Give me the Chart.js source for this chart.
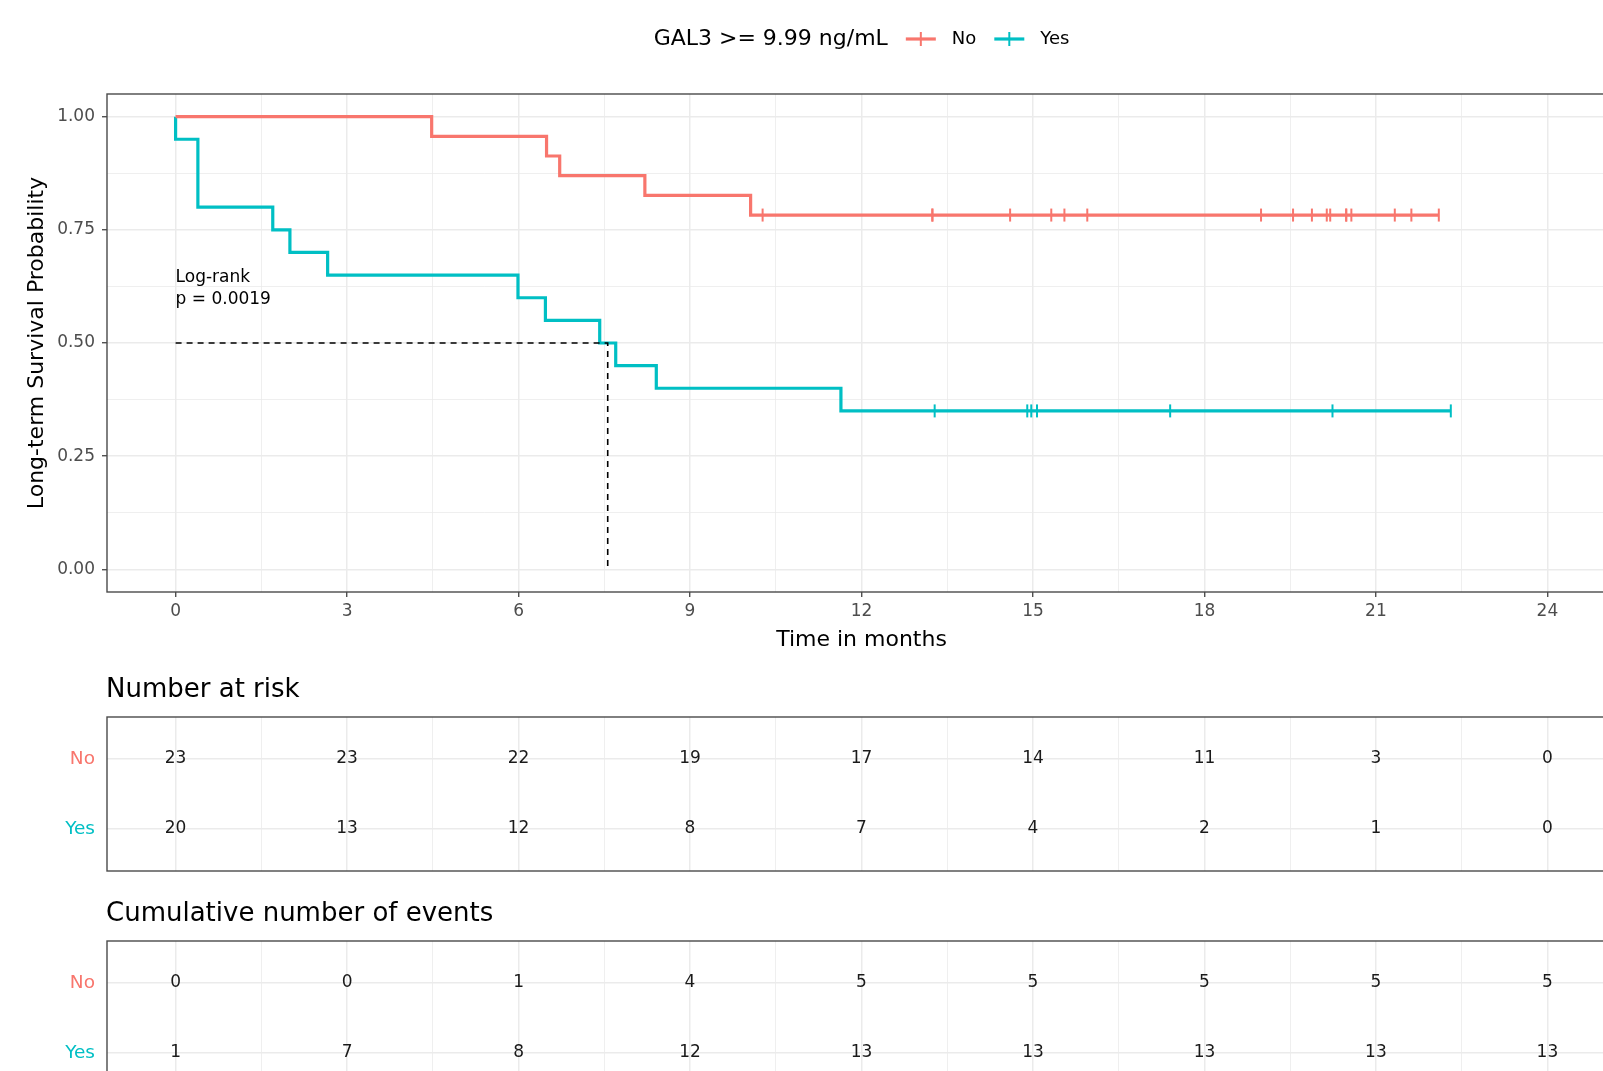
<!DOCTYPE html>
<html><head><meta charset="utf-8">
<script src="https://cdn.jsdelivr.net/npm/chart.js@4.4.1/dist/chart.umd.min.js"></script>
<style>
html,body{margin:0;padding:0;overflow:hidden;background:#fff;width:1603px;height:1071px;}
canvas{position:absolute;left:0;}
#c1{top:0px} #c2{top:660px} #c3{top:880px}
</style></head><body>
<canvas id="c1" width="1630" height="660"></canvas>
<canvas id="c2" width="1630" height="236"></canvas>
<canvas id="c3" width="1630" height="240"></canvas>
<script>
// ---------- DATA ----------
const legendTitle = 'GAL3 >= 9.99 ng/mL';
const groups = ['No', 'Yes'];

// Kaplan-Meier steps (time in months, survival after the step)
const noTimes  = [0, 4.48, 6.49, 6.72, 8.21, 10.06];
const noSurv   = [1.0, 0.9565, 0.9130, 0.8696, 0.8261, 0.7826];
const noCensor = [10.27, 13.24, 13.24, 14.60, 15.32, 15.55, 15.95, 18.99, 19.55, 19.88, 20.14, 20.20, 20.48, 20.48, 20.57, 21.33, 21.62, 22.10];

const yesTimes  = [0, 0, 0.39, 1.70, 2.00, 2.66, 5.99, 6.47, 7.42, 7.70, 8.41, 11.64];
const yesSurv   = [1.0, 0.95, 0.80, 0.75, 0.70, 0.65, 0.60, 0.55, 0.50, 0.45, 0.40, 0.35];
const yesCensor = [13.28, 14.90, 14.97, 15.07, 17.40, 20.24, 22.31];

const medianTime = 7.56;
const medianSurv = 0.5;
const pValueLines = ['Log-rank', 'p = 0.0019'];
const pValueY = [0.645, 0.597];

// axis ticks
const xMajor = [0, 3, 6, 9, 12, 15, 18, 21, 24];
const xMinor = [1.5, 4.5, 7.5, 10.5, 13.5, 16.5, 19.5, 22.5];
const yMajor = [0, 0.25, 0.5, 0.75, 1.0];
const yMinor = [0.125, 0.375, 0.625, 0.875];

// tables
const tableTimes   = [0, 3, 6, 9, 12, 15, 18, 21, 24];
const riskNo       = [23, 23, 22, 19, 17, 14, 11, 3, 0];
const riskYes      = [20, 13, 12, 8, 7, 4, 2, 1, 0];
const eventsNo     = [0, 0, 1, 4, 5, 5, 5, 5, 5];
const eventsYes    = [1, 7, 8, 12, 13, 13, 13, 13, 13];

// ---------- STYLE ----------
const RED = '#F8766D', TEAL = '#00BFC4';
const FONT = "'DejaVu Sans', sans-serif";
Chart.defaults.font.family = FONT;
Chart.defaults.color = '#4D4D4D';
const GRID = '#EBEBEB';

function stepData(times, surv, end) {
  const d = times.map((t, i) => ({x: t, y: surv[i]}));
  d.push({x: end, y: surv[surv.length - 1]});
  return d;
}
function survAt(times, surv, t) {
  let s = surv[0];
  for (let i = 0; i < times.length; i++) if (times[i] <= t) s = surv[i];
  return s;
}
const xGridVals = [...xMajor, ...xMinor].sort((a, b) => a - b);
const yGridVals = [...yMajor, ...yMinor].sort((a, b) => a - b);
const isMajorX = v => xMajor.includes(v);
const isMajorY = v => yMajor.includes(v);

const panelBorder = {
  id: 'panelBorder',
  afterDatasetsDraw(chart) {
    const {ctx, chartArea: a} = chart;
    ctx.save();
    ctx.strokeStyle = '#4a4a4a';
    ctx.lineWidth = 1.4;
    ctx.strokeRect(a.left, a.top, a.right - a.left, a.bottom - a.top);
    ctx.restore();
  }
};

const kmLegend = {
  id: 'kmLegend',
  afterDraw(chart) {
    const ctx = chart.ctx, a = chart.chartArea;
    const items = chart.data.datasets.filter(d => d.legendKey);
    ctx.save();
    const cy = 39;
    ctx.font = '22px ' + FONT;
    const tW = ctx.measureText(legendTitle).width;
    ctx.font = '18px ' + FONT;
    const widths = items.map(it => ctx.measureText(it.label).width);
    const keyW = 30, gTitle = 18, gKey = 16, gItem = 18;
    let total = tW + gTitle;
    widths.forEach((w, i) => { total += keyW + gKey + w + (i < widths.length - 1 ? gItem : 0); });
    let x = (a.left + a.right) / 2 - total / 2;
    ctx.fillStyle = '#000';
    ctx.textBaseline = 'middle';
    ctx.textAlign = 'left';
    ctx.font = '22px ' + FONT;
    ctx.fillText(legendTitle, x, cy);
    x += tW + gTitle;
    items.forEach((it, i) => {
      ctx.strokeStyle = it.borderColor;
      ctx.lineWidth = 3.2;
      ctx.beginPath(); ctx.moveTo(x, cy); ctx.lineTo(x + keyW, cy); ctx.stroke();
      ctx.lineWidth = 2;
      ctx.beginPath(); ctx.moveTo(x + keyW / 2, cy - 7); ctx.lineTo(x + keyW / 2, cy + 7); ctx.stroke();
      x += keyW + gKey;
      ctx.font = '18px ' + FONT;
      ctx.fillStyle = '#000';
      ctx.fillText(it.label, x, cy);
      x += widths[i] + gItem;
    });
    ctx.restore();
  }
};

const pText = {
  id: 'pText',
  afterDatasetsDraw(chart) {
    const {ctx, scales} = chart;
    ctx.save();
    ctx.font = '17px ' + FONT;
    ctx.fillStyle = '#000';
    ctx.textAlign = 'left';
    ctx.textBaseline = 'middle';
    const x = scales.x.getPixelForValue(0);
    pValueLines.forEach((t, i) => ctx.fillText(t, x, scales.y.getPixelForValue(pValueY[i])));
    ctx.restore();
  }
};

const noLast = noCensor[noCensor.length - 1];
const yesLast = yesCensor[yesCensor.length - 1];

new Chart(document.getElementById('c1'), {
  type: 'line',
  data: {
    datasets: [
      {label: 'median', data: [{x: 0, y: medianSurv}, {x: medianTime, y: medianSurv}, {x: medianTime, y: 0}],
       borderColor: '#000', borderWidth: 1.6, borderDash: [6, 5], pointRadius: 0, order: 0},
      {label: groups[0], legendKey: true, data: stepData(noTimes, noSurv, noLast), stepped: true,
       borderColor: RED, borderWidth: 3.2, pointRadius: 0, order: 2},
      {label: groups[1], legendKey: true, data: stepData(yesTimes, yesSurv, yesLast), stepped: true,
       borderColor: TEAL, borderWidth: 3.2, pointRadius: 0, order: 2},
      {label: 'No censored', data: noCensor.map(t => ({x: t, y: survAt(noTimes, noSurv, t)})), showLine: false,
       pointStyle: 'line', pointRotation: 90, pointRadius: 6.5, pointBorderColor: RED, pointBorderWidth: 2,
       pointHoverRadius: 0, borderColor: RED, order: 1},
      {label: 'Yes censored', data: yesCensor.map(t => ({x: t, y: survAt(yesTimes, yesSurv, t)})), showLine: false,
       pointStyle: 'line', pointRotation: 90, pointRadius: 6.5, pointBorderColor: TEAL, pointBorderWidth: 2,
       pointHoverRadius: 0, borderColor: TEAL, order: 1}
    ]
  },
  options: {
    responsive: false, animation: false, events: [],
    layout: {padding: {top: 94, right: 14, bottom: 0, left: 0}},
    plugins: {legend: {display: false}, tooltip: {enabled: false}},
    scales: {
      x: {
        type: 'linear', min: -1.2, max: 25.2,
        afterBuildTicks: s => { s.ticks = xGridVals.map(v => ({value: v})); },
        ticks: {autoSkip: false, maxRotation: 0, padding: 4, font: {size: 17}, color: '#4D4D4D',
                callback: v => isMajorX(v) ? String(v) : ''},
        grid: {color: GRID, lineWidth: c => (c.tick && isMajorX(c.tick.value)) ? 1.5 : 0.8,
               tickColor: c => (c.tick && isMajorX(c.tick.value)) ? '#333' : 'rgba(0,0,0,0)',
               tickLength: 5, tickWidth: 1.2},
        border: {display: false},
        title: {display: true, text: 'Time in months', color: '#000', font: {size: 22}, padding: {top: 0, bottom: 7}},
        afterFit: s => { s.height = 68; }
      },
      y: {
        type: 'linear', min: -0.05, max: 1.05,
        afterBuildTicks: s => { s.ticks = yGridVals.map(v => ({value: v})); },
        ticks: {autoSkip: false, padding: 7, font: {size: 17}, color: '#4D4D4D',
                callback: v => isMajorY(v) ? v.toFixed(2) : ''},
        grid: {color: GRID, lineWidth: c => (c.tick && isMajorY(c.tick.value)) ? 1.5 : 0.8,
               tickColor: c => (c.tick && isMajorY(c.tick.value)) ? '#333' : 'rgba(0,0,0,0)',
               tickLength: 5, tickWidth: 1.2},
        border: {display: false},
        title: {display: true, text: 'Long-term Survival Probability', color: '#000', font: {size: 22}, padding: {top: 24, bottom: 0}},
        afterFit: s => { s.width = 107; }
      }
    }
  },
  plugins: [panelBorder, kmLegend, pText]
});

function tableChart(id, title, noVals, yesVals, padTop, padBottom) {
  const tableText = {
    id: 'tableText',
    afterDatasetsDraw(chart) {
      const {ctx, chartArea: a} = chart;
      ctx.save();
      ctx.font = '26px ' + FONT;
      ctx.fillStyle = '#000';
      ctx.textAlign = 'left';
      ctx.textBaseline = 'middle';
      ctx.fillText(title, a.left - 1, a.top - 27);
      ctx.font = '17px ' + FONT;
      ctx.textAlign = 'center';
      ctx.fillStyle = '#1A1A1A';
      chart.data.datasets.forEach((ds, di) => {
        const meta = chart.getDatasetMeta(di);
        meta.data.forEach((el, i) => ctx.fillText(String(ds.data[i].v), el.x, el.y));
      });
      ctx.restore();
    }
  };
  return new Chart(document.getElementById(id), {
    type: 'scatter',
    data: {datasets: [
      {label: groups[0], data: tableTimes.map((t, i) => ({x: t, y: 1, v: noVals[i]})), pointRadius: 0, pointHoverRadius: 0},
      {label: groups[1], data: tableTimes.map((t, i) => ({x: t, y: 0, v: yesVals[i]})), pointRadius: 0, pointHoverRadius: 0}
    ]},
    options: {
      responsive: false, animation: false, events: [],
      layout: {padding: {top: padTop, right: 14, bottom: padBottom, left: 0}},
      plugins: {legend: {display: false}, tooltip: {enabled: false}},
      scales: {
        x: {
          type: 'linear', min: -1.2, max: 25.2,
          afterBuildTicks: s => { s.ticks = xGridVals.map(v => ({value: v})); },
          ticks: {display: false, autoSkip: false},
          grid: {color: GRID, drawTicks: false, lineWidth: c => (c.tick && isMajorX(c.tick.value)) ? 1.5 : 0.8},
          border: {display: false},
          afterFit: s => { s.height = 0; }
        },
        y: {
          type: 'linear', min: -0.6, max: 1.6,
          afterBuildTicks: s => { s.ticks = [{value: 0}, {value: 1}]; },
          ticks: {autoSkip: false, padding: 12, font: {size: 18.5},
                  color: c => (c.tick && c.tick.value === 1) ? RED : TEAL,
                  callback: v => v === 1 ? groups[0] : groups[1]},
          grid: {color: GRID, drawTicks: false, lineWidth: 1.5},
          border: {display: false},
          afterFit: s => { s.width = 107; }
        }
      }
    },
    plugins: [panelBorder, tableText]
  });
}

// chartArea: table 1 from y=717 to 871, table 2 from y=941 to 1095 (page coordinates)
tableChart('c2', 'Number at risk', riskNo, riskYes, 57, 25);
tableChart('c3', 'Cumulative number of events', eventsNo, eventsYes, 61, 25);
</script>
</body></html>
